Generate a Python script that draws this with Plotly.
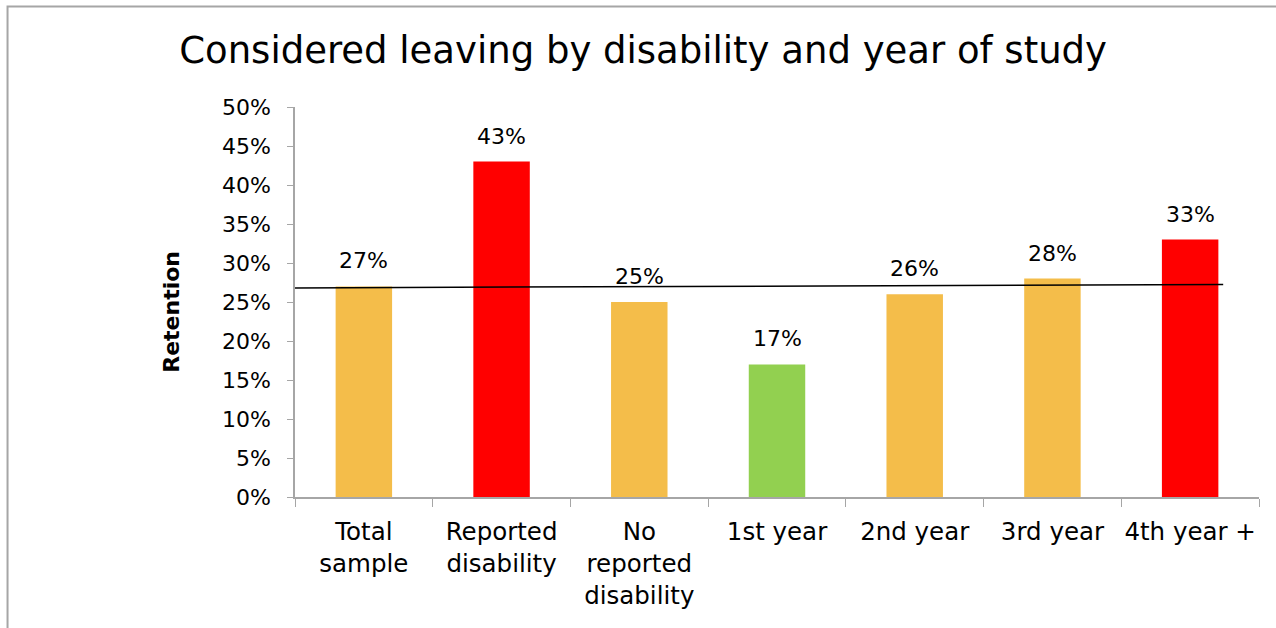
import plotly.graph_objects as go

# Share of students who considered leaving, by group
categories = ["Total sample", "Reported disability", "No reported disability",
              "1st year", "2nd year", "3rd year", "4th year +"]
tick_labels = ["Total<br>sample", "Reported<br>disability", "No<br>reported<br>disability",
               "1st year", "2nd year", "3rd year", "4th year +"]
values = [27, 43, 25, 17, 26, 28, 33]
bar_colors = ["#F4BD4A", "#FF0000", "#F4BD4A", "#92D050", "#F4BD4A", "#F4BD4A", "#FF0000"]

# Reference line across the chart (category-index x, percent y)
ref_x = [-0.59, 6.24]
ref_y = [26.8, 27.25]

y_ticks = list(range(0, 51, 5))

FONT = "DejaVu Sans"

fig = go.Figure()
fig.add_trace(go.Bar(
    x=categories,
    y=values,
    marker=dict(color=bar_colors, line=dict(width=0)),
    hoverinfo="x+y",
))

# Value labels above each bar
for c, v in zip(categories, values):
    fig.add_annotation(
        x=c, y=v, text=f"{v}%", showarrow=False,
        yanchor="bottom", yshift=11,
        font=dict(family=FONT, size=22, color="#000000"),
    )

fig.add_shape(
    type="line", xref="x", yref="y",
    x0=ref_x[0], y0=ref_y[0], x1=ref_x[1], y1=ref_y[1],
    line=dict(color="#000000", width=1.5),
)

# Outer chart frame
fig.add_shape(
    type="rect", xref="paper", yref="paper",
    x0=-0.2982, y0=-1.0, x1=1.5, y1=1.2574,
    line=dict(color="#A6A6A6", width=2), fillcolor="rgba(0,0,0,0)",
    layer="below",
)

# Y-axis title
fig.add_annotation(
    xref="paper", yref="paper", x=-0.1432, y=0.476,
    text="<b>Retention</b>", showarrow=False, textangle=-90,
    font=dict(family=FONT, size=22, color="#000000"),
)

fig.update_layout(
    width=1276, height=628,
    margin=dict(l=295, r=17, t=107, b=131, autoexpand=False),
    paper_bgcolor="white", plot_bgcolor="white",
    showlegend=False,
    bargap=0.59,
    font=dict(family=FONT, color="#000000"),
    title=dict(
        text="Considered leaving by disability and year of study",
        x=0.504, xanchor="center", xref="container",
        y=1 - 50 / 628, yanchor="middle", yref="container",
        font=dict(family=FONT, size=37, color="#000000"),
        automargin=False,
    ),
    xaxis=dict(
        type="category", automargin=False, tickangle=0,
        tickmode="array", tickvals=categories, ticktext=tick_labels,
        tickson="boundaries", ticks="outside", ticklen=8, tickcolor="#A6A6A6",
        ticklabelstandoff=12,
        showline=True, linecolor="#A6A6A6", linewidth=1.5,
        showgrid=False, tickfont=dict(family=FONT, size=24.5, color="#000000"),
        range=[-0.5, 6.5],
    ),
    yaxis=dict(
        range=[0, 50], tickmode="array", tickvals=y_ticks, automargin=False,
        ticktext=[f"{t}%" for t in y_ticks],
        ticks="outside", ticklen=6, tickcolor="#A6A6A6",
        ticklabelstandoff=12,
        showline=True, linecolor="#A6A6A6", linewidth=1.5,
        showgrid=False, zeroline=False,
        tickfont=dict(family=FONT, size=22, color="#000000"),
    ),
)

fig.write_html("out.html")
